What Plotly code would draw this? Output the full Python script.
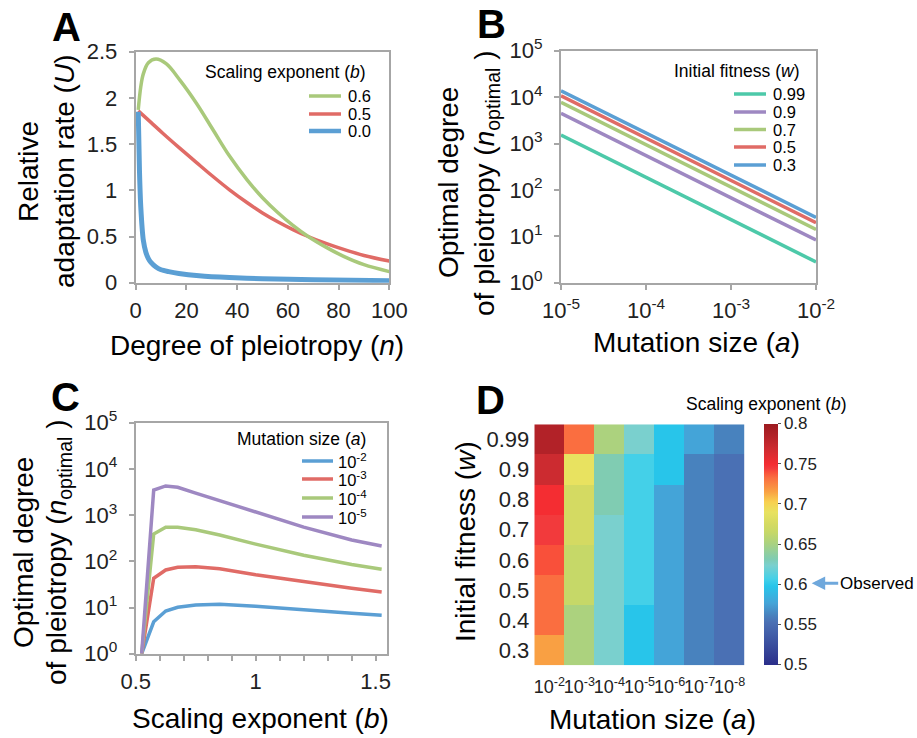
import plotly.graph_objects as go

W, H = 917, 738
FONT = "Liberation Sans, Arial, sans-serif"
GRID = "#A6A6A6"
TXT = "#222222"

# ---------------- Panel A data ----------------
A_n_b06 = [1, 2, 3, 5, 8, 12, 17.5, 24, 30.6, 37, 44, 50, 56, 62, 68, 75, 82, 90, 100]
A_U_b06 = [1.87, 2.12, 2.26, 2.38, 2.42, 2.37, 2.19, 1.94, 1.65, 1.37, 1.11, 0.92, 0.76, 0.62, 0.50, 0.385, 0.285, 0.195, 0.12]
A_n_b05 = [1, 6, 11, 17, 24, 30, 37, 44, 50, 56, 62, 68, 75, 82, 90, 100]
A_U_b05 = [1.86, 1.735, 1.61, 1.465, 1.30, 1.16, 1.005, 0.865, 0.755, 0.66, 0.575, 0.50, 0.425, 0.36, 0.295, 0.235]
A_n_b00 = [1, 1.5, 2, 3, 4, 5, 6, 8, 10, 13, 17, 25, 37, 50, 70, 100]
A_U_b00 = [1.85, 1.2, 0.82, 0.46, 0.33, 0.26, 0.22, 0.17, 0.14, 0.12, 0.10, 0.075, 0.055, 0.042, 0.032, 0.022]
A_labels = ["0.6", "0.5", "0.0"]

# ---------------- Panel B data ----------------
B_a = [1e-5, 1e-2]
B_w_labels = ["0.99", "0.9", "0.7", "0.5", "0.3"]
B_n = {
    "0.99": [1520, 2.8],
    "0.9": [4460, 8.3],
    "0.7": [7700, 14.1],
    "0.5": [10700, 19.6],
    "0.3": [13700, 25.6],
}

# ---------------- Panel C data ----------------
C_b = [0.525, 0.575, 0.625, 0.675, 0.75, 0.85, 1.0, 1.2, 1.4, 1.525]
C_labels = ["10<sup>-2</sup>", "10<sup>-3</sup>", "10<sup>-4</sup>", "10<sup>-5</sup>"]
C_n_a2 = [1, 4.9, 8.4, 10.1, 11.3, 11.7, 10.6, 8.8, 7.5, 6.8]
C_n_a3 = [1, 43, 65, 74, 76, 69, 51, 36, 26, 21.6]
C_n_a4 = [1, 390, 546, 546, 480, 370, 235, 135, 85, 67]
C_n_a5 = [1, 3470, 4270, 4000, 3000, 2050, 1150, 550, 290, 214]

# ---------------- Panel D data ----------------
D_x = ["10<sup>-2</sup>", "10<sup>-3</sup>", "10<sup>-4</sup>", "10<sup>-5</sup>",
       "10<sup>-6</sup>", "10<sup>-7</sup>", "10<sup>-8</sup>"]
D_y = ["0.99", "0.9", "0.8", "0.7", "0.6", "0.5", "0.4", "0.3"]
D_z = [
    [0.785, 0.733, 0.652, 0.624, 0.598, 0.577, 0.562],
    [0.770, 0.690, 0.632, 0.607, 0.598, 0.562, 0.553],
    [0.750, 0.675, 0.632, 0.607, 0.577, 0.562, 0.553],
    [0.745, 0.675, 0.624, 0.607, 0.577, 0.562, 0.553],
    [0.740, 0.665, 0.624, 0.607, 0.577, 0.562, 0.553],
    [0.733, 0.665, 0.624, 0.607, 0.577, 0.562, 0.553],
    [0.733, 0.652, 0.624, 0.598, 0.577, 0.562, 0.553],
    [0.716, 0.652, 0.624, 0.598, 0.577, 0.562, 0.553],
]
CB_ticks = [0.5, 0.55, 0.6, 0.65, 0.7, 0.75, 0.8]
CB_text = ["0.5", "0.55", "0.6", "0.65", "0.7", "0.75", "0.8"]

# colours
GREEN = "#A9C97B"
RED = "#E06B66"
BLUE = "#5B9FD4"
TEAL = "#4DC9A9"
PURPLE = "#9E88C2"

def cs_pos(v):
    return min(1.0, max(0.0, round((v - 0.5) / 0.3, 4)))

colorscale = [
    [cs_pos(0.500), "#2B2F8A"],
    [cs_pos(0.553), "#4A70B4"],
    [cs_pos(0.562), "#4882BE"],
    [cs_pos(0.577), "#44A4D8"],
    [cs_pos(0.598), "#28C5EA"],
    [cs_pos(0.607), "#44D0E8"],
    [cs_pos(0.624), "#7AD0CE"],
    [cs_pos(0.632), "#80CCB2"],
    [cs_pos(0.652), "#ACD27E"],
    [cs_pos(0.665), "#C6D868"],
    [cs_pos(0.675), "#D4DA62"],
    [cs_pos(0.690), "#E8E260"],
    [cs_pos(0.703), "#F8D050"],
    [cs_pos(0.716), "#F9A043"],
    [cs_pos(0.733), "#FA6E40"],
    [cs_pos(0.740), "#F9503A"],
    [cs_pos(0.745), "#F23A3C"],
    [cs_pos(0.750), "#F42D32"],
    [cs_pos(0.770), "#CC2B30"],
    [cs_pos(0.785), "#B22228"],
    [cs_pos(0.800), "#9C1B20"],
]
colorscale[0][0] = 0.0
colorscale[-1][0] = 1.0

def px(x):
    return x / W

def py(y):
    return 1 - y / H

fig = go.Figure()

SM = 1.0
# Panel A traces
fig.add_trace(go.Scatter(x=A_n_b05, y=A_U_b05, mode="lines", line=dict(color=RED, width=3.5, shape="spline", smoothing=SM),
                         xaxis="x", yaxis="y", showlegend=False))
fig.add_trace(go.Scatter(x=A_n_b06, y=A_U_b06, mode="lines", line=dict(color=GREEN, width=3.5, shape="spline", smoothing=SM),
                         xaxis="x", yaxis="y", showlegend=False))
fig.add_trace(go.Scatter(x=A_n_b00, y=A_U_b00, mode="lines", line=dict(color=BLUE, width=5, shape="spline", smoothing=0.7),
                         xaxis="x", yaxis="y", showlegend=False))

# Panel B traces
B_colors = {"0.99": TEAL, "0.9": PURPLE, "0.7": GREEN, "0.5": RED, "0.3": BLUE}
for w in B_w_labels:
    fig.add_trace(go.Scatter(x=B_a, y=B_n[w], mode="lines", line=dict(color=B_colors[w], width=3.5),
                             xaxis="x2", yaxis="y2", showlegend=False))

# Panel C traces
C_series = [C_n_a2, C_n_a3, C_n_a4, C_n_a5]
C_colors = [BLUE, RED, GREEN, PURPLE]
for ser, col in zip(C_series, C_colors):
    fig.add_trace(go.Scatter(x=C_b, y=ser, mode="lines", line=dict(color=col, width=3.5),
                             xaxis="x3", yaxis="y3", showlegend=False))

# Panel D heatmap
fig.add_trace(go.Heatmap(
    x=D_x, y=D_y, z=D_z, zmin=0.5, zmax=0.8, colorscale=colorscale,
    xaxis="x4", yaxis="y4", hoverongaps=False,
    colorbar=dict(
        x=px(764), xanchor="left", y=py(544), yanchor="middle",
        thickness=14, len=241, lenmode="pixels", xpad=0, ypad=0,
        outlinewidth=0, tickvals=CB_ticks, ticktext=CB_text,
        ticks="outside", ticklen=3, tickwidth=1, tickcolor="#555555",
        tickfont=dict(size=17, color=TXT, family=FONT),
    ),
))

tickfont = dict(size=22, color=TXT, family=FONT)
axis_common = dict(showline=True, mirror=True, linecolor=GRID, linewidth=2,
                   ticks="outside", ticklen=5, tickwidth=2, tickcolor=GRID,
                   showgrid=False, zeroline=False, tickfont=tickfont, automargin=False)
xa = dict(axis_common, ticklabelstandoff=2)
ya = dict(axis_common, ticklabelstandoff=7)

sup = lambda e: "10<sup>%d</sup>" % e

fig.update_layout(
    template="none",
    width=W, height=H, margin=dict(l=0, r=0, t=0, b=0, pad=0, autoexpand=False),
    paper_bgcolor="white", plot_bgcolor="white",
    font=dict(family=FONT, color=TXT),
    showlegend=False,
    xaxis=dict(domain=[px(135.7), px(389.3)], anchor="y", range=[0, 100], tickvals=[0, 20, 40, 60, 80, 100], **xa),
    yaxis=dict(domain=[py(282.7), py(51.7)], anchor="x", range=[0, 2.5], tickvals=[0, 0.5, 1, 1.5, 2, 2.5], **ya),
    xaxis2=dict(domain=[px(561), px(816)], anchor="y2", type="log", range=[-5, -2],
                tickvals=[1e-5, 1e-4, 1e-3, 1e-2], ticktext=[sup(-5), sup(-4), sup(-3), sup(-2)], **xa),
    yaxis2=dict(domain=[py(282.7), py(50.7)], anchor="x2", type="log", range=[0, 5],
                tickvals=[1, 10, 100, 1e3, 1e4, 1e5], ticktext=[sup(i) for i in range(6)], **ya),
    xaxis3=dict(domain=[px(135.7), px(386.7)], anchor="y3", range=[0.5, 1.546], tickvals=[0.5, 1, 1.5],
                ticktext=["0.5", "1", "1.5"],
                minor=dict(tickvals=[0.6, 0.7, 0.8, 0.9, 1.1, 1.2, 1.3, 1.4, 1.5], ticks="outside", ticklen=5, tickwidth=2, tickcolor=GRID),
                **xa),
    yaxis3=dict(domain=[py(653.7), py(422.7)], anchor="x3", type="log", range=[0, 5],
                tickvals=[1, 10, 100, 1e3, 1e4, 1e5], ticktext=[sup(i) for i in range(6)], **ya),
    xaxis4=dict(domain=[px(534.3), px(744.7)], anchor="y4", type="category", showline=False, ticks="", showgrid=False,
                zeroline=False, tickangle=0, automargin=False, ticklabelstandoff=9,
                tickfont=dict(size=18, color=TXT, family=FONT)),
    yaxis4=dict(domain=[py(665.3), py(424.3)], anchor="x4", type="category", showline=False, ticks="", showgrid=False,
                zeroline=False, autorange="reversed", automargin=False, ticklabelstandoff=4, tickfont=tickfont),
)

ann = []
def text(x, y, t, size, xanchor="center", yanchor="middle", angle=0, bold=False, color="black"):
    ann.append(dict(x=px(x), y=py(y), xref="paper", yref="paper", text=("<b>%s</b>" % t) if bold else t,
                    showarrow=False, xanchor=xanchor, yanchor=yanchor, textangle=angle,
                    font=dict(size=size, family=FONT, color=color)))

# panel letters
text(66, 27, "A", 40, bold=True)
text(491, 24, "B", 40, bold=True)
text(65, 397, "C", 40, bold=True)
text(490, 400, "D", 40, bold=True)

# axis titles
TS = 28
text(257, 345, "Degree of pleiotropy (<i>n</i>)", TS)
text(29, 172, "Relative", TS, angle=-90)
text(65, 172, "adaptation rate (<i>U</i>)", TS, angle=-90)
text(696, 342, "Mutation size (<i>a</i>)", TS)
text(449, 183, "Optimal degree", TS, angle=-90)
text(487, 183, "of pleiotropy (<i>n</i><sub>optimal</sub> )", TS, angle=-90)
text(260, 718, "Scaling exponent (<i>b</i>)", TS)
text(23, 553, "Optimal degree", TS, angle=-90)
text(58, 552, "of pleiotropy (<i>n</i><sub>optimal</sub> )", TS, angle=-90)
text(652, 719, "Mutation size (<i>a</i>)", TS)
text(465, 542, "Initial fitness (<i>w</i>)", TS, angle=-90)

# colorbar title
text(766, 404, "Scaling exponent (<i>b</i>)", 17.5)

# Observed arrow
ann.append(dict(x=px(811.7), y=py(583.3), xref="paper", yref="paper", text="Observed",
                showarrow=True, ax=65, ay=0, arrowcolor="#6FA8DC", arrowwidth=3, arrowhead=2, arrowsize=0.9,
                standoff=0, font=dict(size=17, family=FONT, color="black")))

# legends (key lines + labels)
shapes = []
def legend(title, title_x, title_y, labels, colors, x0, x1, rows, lx, widths=None):
    text(title_x, title_y, title, 17.5, xanchor="right")
    for i, (lab, col, ry) in enumerate(zip(labels, colors, rows)):
        wdt = widths[i] if widths else 3.5
        shapes.append(dict(type="line", xref="paper", yref="paper", x0=px(x0), x1=px(x1), y0=py(ry), y1=py(ry),
                           line=dict(color=col, width=wdt)))
        text(lx, ry, lab, 16.5, xanchor="left")

legend("Scaling exponent (<i>b</i>)", 368, 72, A_labels, [GREEN, RED, BLUE], 309, 341, [96, 114, 131], 346, widths=[3.5, 3.5, 4.5])
legend("Initial fitness (<i>w</i>)", 801, 71, B_w_labels, [B_colors[w] for w in B_w_labels], 734, 766,
       [94, 112, 129.5, 147, 165], 771)
legend("Mutation size (<i>a</i>)", 368, 439, C_labels, C_colors, 302, 333, [461, 479, 498, 517], 336)

fig.update_layout(annotations=ann, shapes=shapes)
fig.write_html("out.html")
